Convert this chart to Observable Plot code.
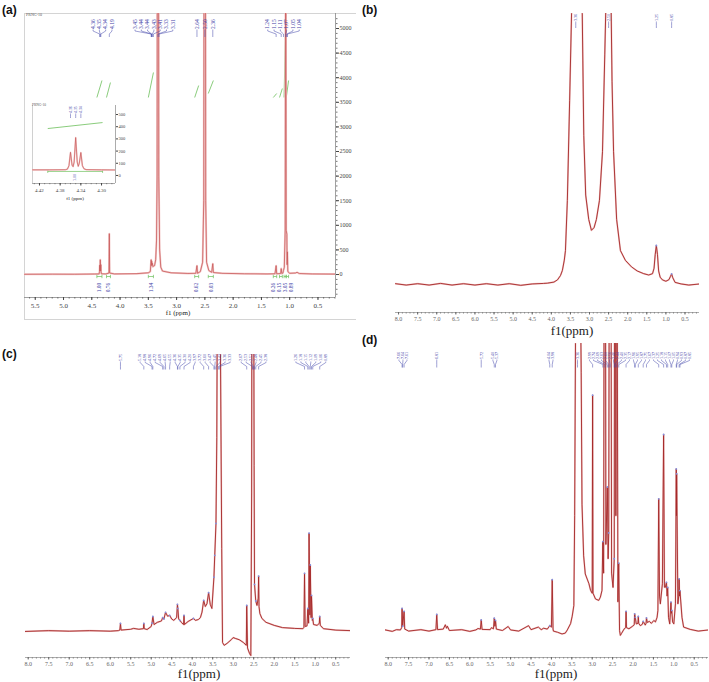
<!DOCTYPE html>
<html><head><meta charset="utf-8">
<script src="https://cdn.jsdelivr.net/npm/d3@7"></script>
<script src="https://cdn.jsdelivr.net/npm/@observablehq/plot@0.6"></script>
<style>
body{margin:0;background:#fff;}
#root{position:relative;width:709px;height:682px;overflow:hidden;background:#fff;}
#root svg{position:absolute;}
.plabel{position:absolute;font-weight:bold;font-size:12px;font-family:"Liberation Sans",Arial,sans-serif;color:#111;line-height:14px;}
.f1{position:absolute;font-family:"Liberation Serif","Times New Roman",serif;color:#222;transform:translateX(-50%);white-space:nowrap;line-height:1;}
.tiny{position:absolute;font-family:"Liberation Serif",serif;color:#555;white-space:nowrap;line-height:1;}
</style></head><body><div id="root"></div>
<script>
// ---------------- DATA ----------------
// (a) 1H NMR, ppm vs intensity
const specA = [[5.69,5],[5.2,8],[4.8,6],[4.45,10],[4.37,12],[4.364,60],[4.36,190],[4.355,70],[4.35,300],[4.345,70],[4.34,200],[4.336,60],[4.33,15],[4.25,12],[4.196,30],[4.19,830],[4.184,30],[4.1,12],[3.7,18],[3.5,35],[3.465,60],[3.45,300],[3.447,180],[3.44,270],[3.435,200],[3.43,230],[3.42,160],[3.41,170],[3.39,180],[3.37,300],[3.355,700],[3.345,2000],[3.33,22000],[3.315,2000],[3.30,500],[3.28,150],[3.25,70],[3.1,35],[2.8,22],[2.66,25],[2.64,180],[2.63,25],[2.58,60],[2.54,250],[2.52,1500],[2.50,22000],[2.485,1500],[2.47,250],[2.43,80],[2.38,45],[2.36,220],[2.35,40],[2.2,25],[1.8,15],[1.4,12],[1.26,15],[1.24,180],[1.23,15],[1.16,20],[1.15,120],[1.14,20],[1.12,30],[1.11,80],[1.095,150],[1.08,900],[1.07,9000],[1.062,900],[1.05,820],[1.046,200],[1.04,460],[1.033,60],[1.0,25],[0.9,30],[0.87,45],[0.83,20],[0.6,12],[0.19,8]];
const peaksA = [4.36,4.35,4.34,4.19,3.45,3.44,3.44,3.43,3.41,3.33,3.31,2.64,2.50,2.36,1.24,1.15,1.11,1.07,1.05,1.04];
const integralsA = [
  {from:4.41, to:4.32, value:"1.00", base:3598, top:3943},
  {from:4.24, to:4.17, value:"0.76", base:3598, top:3902},
  {from:3.50, to:3.41, value:"1.34", base:3598, top:4106},
  {from:2.68, to:2.61, value:"0.62", base:3598, top:3841},
  {from:2.44, to:2.35, value:"0.03", base:3679, top:3943},
  {from:1.29, to:1.23, value:"0.26", base:3598, top:3679},
  {from:1.18, to:1.13, value:"0.15", base:3598, top:3781},
  {from:1.10, to:1.065, value:"3.05", base:3598, top:5400},
  {from:1.06, to:1.02, value:"0.89", base:3598, top:3943}
];
const xTicksA = [5.5,5.0,4.5,4.0,3.5,3.0,2.5,2.0,1.5,1.0,0.5];
const yTicksA = [0,500,1000,1500,2000,2500,3000,3500,4000,4500,5000];
const xDomainA = [5.69, 0.19];
const yDomainA = [-467, 5305];

// (a) inset: 4.30–4.42 ppm triplet
const specIn = [[4.4335,46],[4.40,46],[4.37,47],[4.366,52],[4.363,80],[4.36,190],[4.357,85],[4.355,72],[4.353,110],[4.35,311],[4.347,110],[4.345,75],[4.343,100],[4.34,188],[4.337,80],[4.334,55],[4.33,48],[4.30,46],[4.273,45]];
const peaksIn = [4.36,4.35,4.34];
const integralIn = [{from:4.404, to:4.298, value:"1.00", lo:385, hi:434, level:33}];
const xTicksIn = [4.42,4.38,4.34,4.30];
const yTicksIn = [0,100,200,300,400,500];
const xDomainIn = [4.4335, 4.273];
const yDomainIn = [-66, 574];

// (b)
const specB = [[8.08,0.3],[7.8,-0.2],[7.5,0.3],[7.2,-0.2],[6.9,0.4],[6.6,-0.2],[6.3,0.3],[6.0,-0.2],[5.7,0.3],[5.4,-0.2],[5.1,0.3],[4.8,-0.3],[4.5,0.2],[4.2,0.4],[4.1,0.5],[3.93,0.9],[3.84,1.7],[3.76,3.3],[3.71,5.2],[3.66,9],[3.63,12.5],[3.58,31],[3.52,68],[3.47,100],[3.42,160],[3.36,220],[3.32,210],[3.26,160],[3.19,100],[3.15,55],[3.10,33],[3.02,24],[2.95,20],[2.88,21],[2.82,24],[2.74,31],[2.66,49],[2.60,85],[2.56,110],[2.52,180],[2.49,185],[2.45,120],[2.41,75],[2.37,49],[2.29,24],[2.19,12.5],[2.06,8.9],[1.90,6.5],[1.75,5],[1.58,4],[1.45,3.5],[1.35,4],[1.31,6],[1.28,11],[1.25,14.4],[1.22,11],[1.19,5],[1.15,2.7],[1.09,1.7],[1.0,1.2],[0.92,1.8],[0.88,3.0],[0.85,3.9],[0.82,2.5],[0.76,0.8],[0.6,0.2],[0.4,-0.2],[0.12,0.2]];
const peaksB = [3.36,2.50,1.25,0.85];
const xDomainB = [8.08, 0.12];
const yDomainB = [-10.33, 100];

// (c)
const specC = [[8.07,0],[7.5,0.3],[7.0,0.1],[6.5,0.3],[6.0,0.1],[5.80,0.3],[5.765,0.5],[5.75,2.9],[5.735,0.5],[5.5,0.8],[5.43,1.1],[5.3,0.8],[5.19,1.0],[5.18,2.9],[5.17,1.0],[5.1,0.7],[5.0,1.8],[4.98,3.0],[4.96,5.4],[4.93,2.5],[4.85,3.3],[4.75,3.8],[4.72,5.0],[4.69,4.5],[4.65,6.9],[4.60,5.5],[4.55,5.8],[4.5,4.5],[4.45,4.0],[4.38,5],[4.36,9.8],[4.35,8.3],[4.33,4.5],[4.30,4.0],[4.26,3.2],[4.21,2.5],[4.20,5.8],[4.19,2.5],[4.1,3.6],[3.97,4.7],[3.92,4.0],[3.85,4.3],[3.80,5],[3.76,7],[3.72,11.2],[3.68,9],[3.64,10],[3.60,14],[3.56,9.8],[3.52,8.3],[3.47,19.6],[3.45,27.5],[3.42,39],[3.40,70],[3.38,150],[3.36,300],[3.33,150],[3.31,100],[3.28,30],[3.26,-4],[3.22,-5],[3.15,-4.3],[3.05,-3],[3.0,-2.2],[2.95,-2.5],[2.85,-3],[2.75,-4],[2.68,-5],[2.67,9.4],[2.65,-6],[2.60,-8],[2.57,-8.7],[2.55,50],[2.53,300],[2.51,200],[2.49,60],[2.48,17],[2.45,11],[2.42,9.4],[2.39,12],[2.38,20],[2.37,9],[2.35,6.5],[2.3,4.7],[2.2,3.3],[2.0,2.2],[1.8,1.4],[1.5,1.1],[1.3,1.0],[1.275,1.5],[1.26,21],[1.245,1.8],[1.2,2],[1.18,8.3],[1.16,3],[1.15,35.5],[1.13,6],[1.12,24],[1.10,5],[1.09,13],[1.07,4],[1.06,4.7],[1.04,2.5],[0.95,2.2],[0.90,3],[0.89,5.4],[0.875,2.2],[0.8,1],[0.5,0.5],[0.14,0.3]];
const peaksC = [5.75,5.18,4.98,4.96,4.72,4.69,4.65,4.55,4.36,4.35,4.30,4.20,3.97,3.72,3.60,3.47,3.45,3.42,3.36,3.33,2.67,2.53,2.51,2.48,2.45,2.38,1.26,1.18,1.15,1.12,1.09,1.06,0.89];
const xDomainC = [8.066, 0.139];
const yDomainC = [-9.4, 100];

// (d)
const specD = [[8.07,0.2],[7.9,-0.3],[7.8,0.3],[7.70,0.2],[7.67,1],[7.66,7.7],[7.645,1.5],[7.61,6.7],[7.595,0.5],[7.5,-0.2],[7.2,0.3],[7.0,-0.2],[6.83,0.3],[6.81,5.6],[6.79,0.3],[6.65,0.5],[6.60,2.0],[6.57,0.8],[6.55,1.5],[6.5,0],[6.2,0.3],[6.0,-0.3],[5.85,0.2],[5.80,0.7],[5.74,0.5],[5.72,3.7],[5.70,0.4],[5.5,0.3],[5.47,1.0],[5.42,0.6],[5.40,4.3],[5.385,1.5],[5.37,3.5],[5.35,0.5],[5.2,0],[5.06,1.4],[5.0,0.2],[4.8,-0.2],[4.56,1.7],[4.5,0.3],[4.32,1.2],[4.25,0.3],[4.19,0.8],[4.1,0.5],[4.04,1.7],[4.0,1.2],[3.98,17.7],[3.96,0.5],[3.95,-0.2],[3.85,-0.6],[3.74,-1.2],[3.66,-0.9],[3.61,0.2],[3.53,2.4],[3.49,5],[3.45,8.7],[3.43,40],[3.41,100],[3.38,180],[3.36,260],[3.32,200],[3.29,120],[3.27,90],[3.25,44],[3.21,26],[3.17,19.7],[3.08,16.3],[3.04,14],[3.00,13],[2.99,82],[2.98,13],[2.92,11],[2.84,10.5],[2.80,11.6],[2.76,14],[2.74,31],[2.72,20],[2.69,300],[2.665,30],[2.63,50],[2.61,25],[2.595,34],[2.56,300],[2.525,20],[2.49,15],[2.46,25],[2.44,300],[2.42,40],[2.40,200],[2.37,10],[2.35,23.5],[2.33,0],[2.31,-1.7],[2.28,-1],[2.22,0.5],[2.18,1],[2.17,6.7],[2.16,1],[2.10,0.6],[2.02,1.4],[1.97,2],[1.96,5.8],[1.945,4.6],[1.92,2.3],[1.88,2.5],[1.87,4.9],[1.86,2.5],[1.82,1.7],[1.77,2.2],[1.75,3.2],[1.70,1.9],[1.68,2.5],[1.67,4.4],[1.65,2.8],[1.60,3.2],[1.55,2.5],[1.49,3.5],[1.45,3.0],[1.41,4.6],[1.39,7],[1.37,45.9],[1.35,12],[1.33,9.3],[1.28,16.3],[1.25,68.3],[1.23,15.1],[1.21,15],[1.18,16.8],[1.165,12],[1.15,15],[1.13,4.6],[1.10,2.3],[1.07,9.9],[1.06,6],[1.05,7],[1.03,3],[1.0,2.3],[0.96,9.3],[0.94,56.3],[0.935,40],[0.93,54.6],[0.90,9.3],[0.88,12],[0.87,18],[0.86,12],[0.85,13.9],[0.80,4.6],[0.76,1.2],[0.6,0.4],[0.4,-0.2],[0.15,0.2]];
const peaksD = [7.66,7.645,7.61,6.81,5.72,5.40,5.37,4.04,3.98,3.36,2.99,2.74,2.69,2.63,2.595,2.56,2.46,2.44,2.40,2.35,2.17,1.96,1.945,1.87,1.75,1.67,1.37,1.25,1.18,1.15,1.07,1.05,0.94,0.93,0.87,0.85];
const xDomainD = [8.066, 0.15];
const yDomainD = [-9.4, 100];

const xTicksBCD = [8.0,7.5,7.0,6.5,6.0,5.5,5.0,4.5,4.0,3.5,3.0,2.5,2.0,1.5,1.0,0.5];

// ---------------- HELPERS ----------------
const BLUE = "#3f43a8", GREEN = "#6cbf5a";
const root = document.getElementById("root");
const f2 = d3.format(".2f"), f1 = d3.format(".1f");
const minor = (lo, hi, step) => d3.range(Math.round(lo / step), Math.round(hi / step) + 1).map(i => +(i * step).toFixed(3));

function layoutLabels(values, xs, gap) {
  const items = values.map(v => ({v, d: xs(v)})).sort((a, b) => a.d - b.d);
  let blocks = items.map(it => [it]);
  const place = b => { const m = d3.mean(b, i => i.d); const s = m - (b.length - 1) / 2 * gap; b.forEach((it, k) => it.l = s + k * gap); };
  let merged = true;
  while (merged) {
    merged = false;
    blocks.forEach(place);
    for (let i = 0; i < blocks.length - 1; i++) {
      const a = blocks[i], b = blocks[i + 1];
      if (a[a.length - 1].l + gap > b[0].l + 1e-9) { blocks.splice(i, 2, a.concat(b)); merged = true; break; }
    }
  }
  blocks.forEach(place);
  return items.map(it => ({peak: it.v, lx: xs.invert(it.l)}));
}

function peakLabelMarks(values, xs, ys, gap, px, fontSize, spec) {
  const L = layoutLabels(values, xs, gap);
  const yT = ys.invert(px.text), yS = ys.invert(px.stem), yK = ys.invert(px.knee), yE = ys.invert(px.end);
  const marks = [
    Plot.link(L, {x1: "lx", x2: "lx", y1: () => yT, y2: () => yS, stroke: BLUE, strokeWidth: 0.5}),
    Plot.link(L, {x1: "lx", x2: "peak", y1: () => yS, y2: () => yK, stroke: BLUE, strokeWidth: 0.5}),
    Plot.link(L, {x1: "peak", x2: "peak", y1: () => yK, y2: () => yE, stroke: BLUE, strokeWidth: 0.5}),
    Plot.text(L, {x: "lx", y: () => yT + (ys.invert(0) - ys.invert(1)) * 0.6, text: d => f2(d.peak), rotate: -90, textAnchor: "start", lineAnchor: "middle", fontSize, fill: BLUE, fontFamily: "Liberation Serif"})
  ];
  if (spec) {
    const tops = [];
    for (const p of values) { const hit = spec.find(s => s[0] === p); if (hit) tops.push(hit); }
    marks.push(Plot.dot(tops, {x: d => d[0], y: d => d[1], r: 0.9, fill: "#8090e0", stroke: "none", clip: true}));
  }
  return marks;
}

function spectrum(spec, color, halo, w, hw) {
  return [
    Plot.line(spec, {x: d => d[0], y: d => d[1], stroke: halo, strokeWidth: hw, clip: true, strokeLinejoin: "round"}),
    Plot.line(spec, {x: d => d[0], y: d => d[1], stroke: color, strokeWidth: w, clip: true, strokeLinejoin: "round"})
  ];
}

function place(svg, left, top) {
  svg.style.left = left + "px"; svg.style.top = top + "px";
  root.appendChild(svg);
}
function addText(cls, text, left, top, size, extra) {
  const d = document.createElement("div");
  d.className = cls; d.textContent = text;
  d.style.left = left + "px"; d.style.top = top + "px";
  if (size) d.style.fontSize = size + "px";
  if (extra) Object.assign(d.style, extra);
  root.appendChild(d);
  return d;
}

// ---------------- PANEL (a) ----------------
{
  const W = 360, H = 330, ml = 24, mr = 25, mt = 13, mb = 33;
  const xs = d3.scaleLinear().domain(xDomainA).range([ml, W - mr]);
  const ys = d3.scaleLinear().domain(yDomainA).range([H - mb, mt]);
  const IL = layoutLabels(integralsA.map(d => (d.from + d.to) / 2), xs, 6);
  const intLab = IL.map((d, i) => ({lx: d.lx, text: integralsA.find(g => (g.from + g.to) / 2 === d.peak).value}));
  const yBr = ys.invert(276), yBr1 = ys.invert(274.3), yBr2 = ys.invert(277.7), yIL = ys.invert(287);
  const svg = Plot.plot({
    width: W, height: H, marginLeft: ml, marginRight: mr, marginTop: mt, marginBottom: mb,
    x: {domain: xDomainA}, y: {domain: yDomainA},
    style: {background: "transparent", fontFamily: "Liberation Serif", fontSize: "7px", color: "#444", overflow: "visible"},
    marks: [
      Plot.ruleY([yDomainA[0]], {stroke: "#888", strokeWidth: 0.8}),
      Plot.ruleX([xDomainA[1]], {stroke: "#888", strokeWidth: 0.8}),
      Plot.axisX({ticks: minor(0.2, 5.6, 0.1), tickSize: 1.5, tickFormat: () => "", label: null, color: "#666"}),
      Plot.axisX({ticks: xTicksA, tickSize: 3, tickPadding: 3, tickFormat: f1, label: null, fontSize: 7, color: "#444"}),
      Plot.axisY({anchor: "right", ticks: minor(-400, 5200, 100), tickSize: 1.5, tickFormat: () => "", label: null, color: "#777"}),
      Plot.axisY({anchor: "right", ticks: yTicksA, tickSize: 3, tickPadding: 1, tickFormat: d3.format("d"), label: null, fontSize: 6, color: "#444"}),
      // integral curves
      Plot.link(integralsA, {x1: "from", x2: "to", y1: "base", y2: "top", stroke: GREEN, strokeWidth: 0.8, clip: true}),
      ...spectrum(specA, "#c95a5a", "#f3caca", 0.8, 2.0),
      // integral brackets and values under baseline
      Plot.link(integralsA, {x1: "from", x2: "to", y1: () => yBr, y2: () => yBr, stroke: GREEN, strokeWidth: 0.7}),
      Plot.link(integralsA, {x1: "from", x2: "from", y1: () => yBr1, y2: () => yBr2, stroke: GREEN, strokeWidth: 0.7}),
      Plot.link(integralsA, {x1: "to", x2: "to", y1: () => yBr1, y2: () => yBr2, stroke: GREEN, strokeWidth: 0.7}),
      Plot.text(intLab, {x: "lx", y: () => yIL, text: "text", rotate: -90, textAnchor: "middle", lineAnchor: "middle", fontSize: 5.5, fill: BLUE, fontFamily: "Liberation Serif"}),
      ...peakLabelMarks(peaksA, xs, ys, 6.3, {text: 29, stem: 30.5, knee: 33.5, end: 36.5}, 5.5, null)
    ]
  });
  place(svg, 0, 0);
  const box = document.createElement("div");
  Object.assign(box.style, {position: "absolute", left: "24px", top: "13px", width: "331px", height: "305px", borderTop: "1px solid #d4d4d4", borderLeft: "1px solid #d4d4d4", borderBottom: "1px solid #d4d4d4"});
  root.insertBefore(box, svg);
  addText("tiny", "PRNG-10", 26, 13, 4);
  addText("f1", "f1 (ppm)", 178, 310, 7);
}

// ---------------- INSET (a) ----------------
{
  const W = 110, H = 105, ml = 7, mr = 20, mt = 5, mb = 22;
  const xs = d3.scaleLinear().domain(xDomainIn).range([ml, W - mr]);
  const ys = d3.scaleLinear().domain(yDomainIn).range([H - mb, mt]);
  const yB1 = ys.invert(ys(integralIn[0].level) - 1.5), yB2 = ys.invert(ys(integralIn[0].level) + 1.5);
  const svg = Plot.plot({
    width: W, height: H, marginLeft: ml, marginRight: mr, marginTop: mt, marginBottom: mb,
    x: {domain: xDomainIn}, y: {domain: yDomainIn},
    style: {background: "transparent", fontFamily: "Liberation Serif", fontSize: "5px", color: "#444", overflow: "visible"},
    marks: [
      Plot.ruleY([yDomainIn[0]], {stroke: "#888", strokeWidth: 0.7}),
      Plot.ruleX([xDomainIn[1]], {stroke: "#888", strokeWidth: 0.7}),
      Plot.ruleX([xDomainIn[0]], {stroke: "#bbb", strokeWidth: 0.7}),
      Plot.axisX({ticks: minor(4.28, 4.43, 0.01), tickSize: 1.2, tickFormat: () => "", label: null, color: "#777"}),
      Plot.axisX({ticks: xTicksIn, tickSize: 2.5, tickPadding: 2, tickFormat: f2, label: null, fontSize: 5, color: "#444"}),
      Plot.axisY({anchor: "right", ticks: yTicksIn, tickSize: 2, tickPadding: 1, tickFormat: d3.format("d"), label: null, fontSize: 4.5, color: "#444"}),
      Plot.link(integralIn, {x1: "from", x2: "to", y1: "lo", y2: "hi", stroke: GREEN, strokeWidth: 0.8}),
      Plot.link(integralIn, {x1: "from", x2: "to", y1: "level", y2: "level", stroke: GREEN, strokeWidth: 0.7}),
      Plot.link(integralIn, {x1: "from", x2: "from", y1: () => yB1, y2: () => yB2, stroke: GREEN, strokeWidth: 0.7}),
      Plot.link(integralIn, {x1: "to", x2: "to", y1: () => yB1, y2: () => yB2, stroke: GREEN, strokeWidth: 0.7}),
      ...spectrum(specIn, "#c95a5a", "#f3caca", 0.7, 1.6),
      Plot.text(integralIn, {x: d => (d.from + d.to) / 2, y: () => ys.invert(77), text: "value", rotate: -90, textAnchor: "middle", lineAnchor: "middle", fontSize: 4, fill: BLUE, fontFamily: "Liberation Serif"}),
      ...peakLabelMarks(peaksIn, xs, ys, 5, {text: 13, stem: 14, knee: 16, end: 17.5}, 3.8, null)
    ]
  });
  place(svg, 25, 100);
  addText("tiny", "PRNG-10", 32, 104, 3.5);
  addText("f1", "f1 (ppm)", 75, 196, 5);
}

// ---------------- PANELS (b)(c)(d) ----------------
function bcdPanel(o) {
  const xs = d3.scaleLinear().domain(o.xDomain).range([o.ml, o.W - o.mr]);
  const ys = d3.scaleLinear().domain(o.yDomain).range([o.H - o.mb, o.mt]);
  const svg = Plot.plot({
    width: o.W, height: o.H, marginLeft: o.ml, marginRight: o.mr, marginTop: o.mt, marginBottom: o.mb,
    x: {domain: o.xDomain}, y: {domain: o.yDomain, axis: null},
    style: {background: "transparent", fontFamily: "Liberation Serif", fontSize: "6px", color: "#666", overflow: "visible"},
    marks: [
      Plot.ruleY([o.yDomain[0]], {stroke: "#999", strokeWidth: 0.8}),
      Plot.axisX({ticks: minor(0.2, 8.0, 0.1), tickSize: 1.5, tickFormat: () => "", label: null, color: "#888"}),
      Plot.axisX({ticks: xTicksBCD, tickSize: 2.5, tickPadding: 1.5, tickFormat: f1, label: null, fontSize: 6, color: "#666"}),
      ...spectrum(o.spec, "#a52828", "#efc0c0", 0.9, 1.7),
      ...peakLabelMarks(o.peaks, xs, ys, o.gap, o.px, 4, o.spec)
    ]
  });
  place(svg, o.left, o.top);
}
bcdPanel({left: 360, top: 0, W: 349, H: 340, ml: 35, mr: 10, mt: 13, mb: 28, xDomain: xDomainB, yDomain: yDomainB, spec: specB, peaks: peaksB, gap: 5, px: {text: 21, stem: 22, knee: 25, end: 27.5}});
bcdPanel({left: 0, top: 340, W: 360, H: 342, ml: 25, mr: 10, mt: 14, mb: 25, xDomain: xDomainC, yDomain: yDomainC, spec: specC, peaks: peaksC, gap: 5, px: {text: 21, stem: 22, knee: 26, end: 29}});
bcdPanel({left: 360, top: 340, W: 349, H: 342, ml: 25, mr: 1, mt: 3, mb: 25, xDomain: xDomainD, yDomain: yDomainD, spec: specD, peaks: peaksD, gap: 4, px: {text: 19, stem: 20, knee: 24, end: 27}});

// ---------------- TEXT ----------------
addText("plabel", "(a)", 2, 3);
addText("plabel", "(b)", 362, 3);
addText("plabel", "(c)", 2, 347);
addText("plabel", "(d)", 362, 333);
addText("f1", "f1(ppm)", 572, 324, 13);
addText("f1", "f1(ppm)", 199, 667, 13);
addText("f1", "f1(ppm)", 556, 667, 13);
</script></body></html>
